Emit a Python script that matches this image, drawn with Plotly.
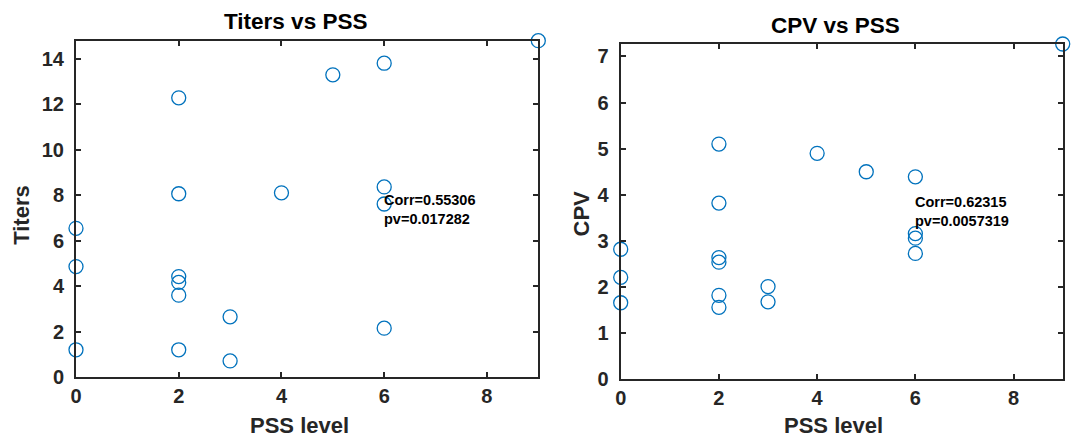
import plotly.graph_objects as go

# PSS level of each sample
pss = [0, 0, 0, 2, 2, 2, 2, 2, 2, 3, 3, 4, 5, 6, 6, 6, 6, 9]
# antibody titers per sample
titers = [1.21, 4.87, 6.55, 12.29, 8.07, 4.43, 4.17, 3.61, 1.21,
          2.66, 0.72, 8.11, 13.30, 13.81, 8.37, 7.62, 2.16, 14.80]
# CPV per sample
cpv = [1.66, 2.21, 2.82, 5.10, 3.82, 2.64, 2.54, 1.82, 1.56,
       2.01, 1.68, 4.90, 4.50, 4.39, 3.16, 3.06, 2.73, 7.27]

corr_text = ["Corr=0.55306<br>pv=0.017282", "Corr=0.62315<br>pv=0.0057319"]
titles = ["Titers vs PSS", "CPV vs PSS"]
ylabels = ["Titers", "CPV"]
xticks = [0, 2, 4, 6, 8]

W, H = 1071, 439
FONT = "Liberation Sans, Arial, Helvetica, sans-serif"
INK = "#262626"
BLUE = "#0072BD"


def px(x):
    return x / W


def py(y):
    return 1 - y / H


fig = go.Figure()
fig.add_trace(go.Scatter(x=pss, y=titers, mode="markers", xaxis="x", yaxis="y",
                         cliponaxis=False,
                         marker=dict(symbol="circle-open", size=14, color=BLUE,
                                     line=dict(width=1.3, color=BLUE))))
fig.add_trace(go.Scatter(x=pss, y=cpv, mode="markers", xaxis="x2", yaxis="y2",
                         cliponaxis=False,
                         marker=dict(symbol="circle-open", size=14, color=BLUE,
                                     line=dict(width=1.3, color=BLUE))))

axis_common = dict(showline=True, linecolor=INK, linewidth=2, mirror="ticks",
                   ticks="inside", ticklen=5, tickwidth=2, tickcolor=INK,
                   showgrid=False, zeroline=False, automargin=False,
                   tickfont=dict(family=FONT, size=20, color=INK, weight="bold"))

fig.update_layout(
    width=W, height=H, margin=dict(l=0, r=0, t=0, b=0, pad=0),
    paper_bgcolor="white", plot_bgcolor="white", showlegend=False,
    xaxis=dict(domain=[px(76), px(538.3)], range=[0, 9], tickvals=xticks,
               anchor="y", **axis_common),
    yaxis=dict(domain=[py(377.3), py(40.7)], range=[0, max(titers)], dtick=2,
               anchor="x", ticklabelstandoff=6, **axis_common),
    xaxis2=dict(domain=[px(620.7), px(1062.7)], range=[0, 9], tickvals=xticks,
                anchor="y2", **axis_common),
    yaxis2=dict(domain=[py(379.3), py(44)], range=[0, max(cpv)], dtick=1,
                anchor="x2", ticklabelstandoff=6, **axis_common),
)

ann = []
# subplot titles
for text, cx, cy in zip(titles, [295, 835], [22, 25.5]):
    ann.append(dict(text=text, x=px(cx), y=py(cy), xref="paper", yref="paper",
                    xanchor="center", yanchor="middle", showarrow=False,
                    font=dict(family=FONT, size=22.5, color="black", weight="bold")))
# x-axis labels
for cx in [299, 833.5]:
    ann.append(dict(text="PSS level", x=px(cx), y=py(425), xref="paper", yref="paper",
                    xanchor="center", yanchor="middle", showarrow=False,
                    font=dict(family=FONT, size=22, color=INK, weight="bold")))
# y-axis labels
for text, cx, cy in zip(ylabels, [20.8, 581.5], [215, 214]):
    ann.append(dict(text=text, x=px(cx), y=py(cy), xref="paper", yref="paper",
                    xanchor="center", yanchor="middle", textangle=-90, showarrow=False,
                    font=dict(family=FONT, size=22, color=INK, weight="bold")))
# correlation notes placed at PSS=6, half the max value
for text, xr, yr, vals in zip(corr_text, ["x", "x2"], ["y", "y2"], [titers, cpv]):
    ann.append(dict(text=text, x=6, y=max(vals) / 2, xref=xr, yref=yr,
                    xanchor="left", yanchor="middle", align="left", showarrow=False,
                    xshift=-2,
                    font=dict(family=FONT, size=14.5, color="black", weight="bold")))
fig.update_layout(annotations=ann)

fig.write_html("out.html")
